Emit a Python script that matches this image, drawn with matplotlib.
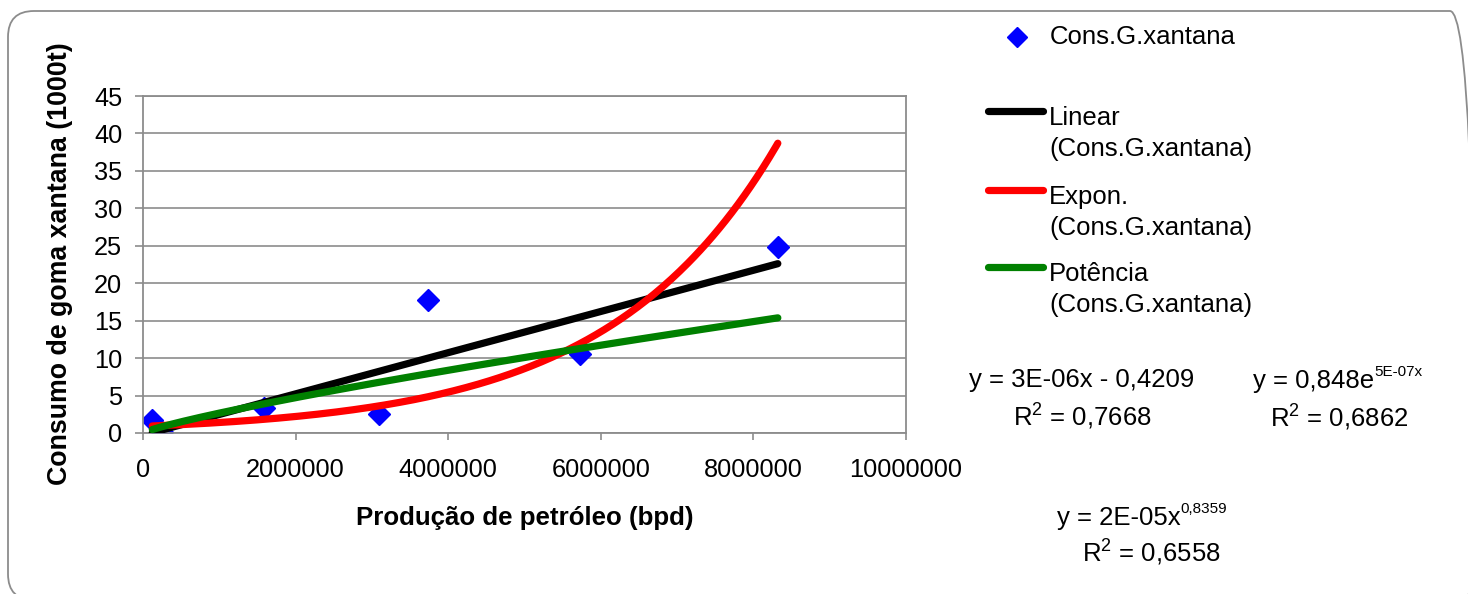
import numpy as np
import matplotlib
matplotlib.use("Agg")
import matplotlib.pyplot as plt
from matplotlib.lines import Line2D
from matplotlib.patches import FancyBboxPatch
from matplotlib.transforms import IdentityTransform
from matplotlib.ticker import FuncFormatter, MultipleLocator

# ---------------- Data ---------------- #
producao = [122000, 244000, 1584000, 3090000, 3737000, 5730000, 8320000]   # bpd
consumo = [1.75, 0.2, 3.3, 2.6, 17.7, 10.5, 24.8]                          # 1000 t

series_name = "Cons.G.xantana"
trend_names = ["Linear", "Expon.", "Potência"]
trend_colors = ["black", "red", "green"]
# (equation, superscript, R2 line)
eq_texts = [
    ("y = 3E-06x - 0,4209", "", "R$^2$ = 0,7668"),
    ("y = 0,848e", "5E-07x", "R$^2$ = 0,6862"),
    ("y = 2E-05x", "0,8359", "R$^2$ = 0,6558"),
]

x = np.array(producao, dtype=float)
y = np.array(consumo, dtype=float)

# ---------------- Trend fits (Excel style) ---------------- #
a_lin, b_lin = np.polyfit(x, y, 1)
k_exp, ln_a_exp = np.polyfit(x, np.log(y), 1)
p_pow, ln_a_pow = np.polyfit(np.log(x), np.log(y), 1)

xs = np.linspace(x.min(), x.max(), 300)
trends = [
    a_lin * xs + b_lin,
    np.exp(ln_a_exp) * np.exp(k_exp * xs),
    np.exp(ln_a_pow) * xs ** p_pow,
]

# ---------------- Figure ---------------- #
plt.rcParams['font.family'] = ['Liberation Sans', 'DejaVu Sans']
plt.rcParams['mathtext.fontset'] = 'custom'
plt.rcParams['mathtext.rm'] = 'Liberation Sans'
plt.rcParams['mathtext.it'] = 'Liberation Sans'

W, H = 1468, 594
FS = 18.5
fig = plt.figure(figsize=(W / 100, H / 100), dpi=100)


def fx(px):
    return px / W


def fy(py):
    return 1 - py / H


# outer rounded border (pixel coords)
fig.patches.append(FancyBboxPatch((8, H - 600), 1476 - 8, 600 - 11,
                                  boxstyle="round,pad=0,rounding_size=26",
                                  transform=IdentityTransform(), fill=False,
                                  edgecolor="#8c8c8c", linewidth=1.3))

ax = fig.add_axes([fx(143), fy(433), fx(906 - 143), (433 - 96) / H])

ax.plot(x, y, linestyle="none", marker="D", markersize=11, color="#0000ff",
        zorder=2)
for ys, c in zip(trends, trend_colors):
    ax.plot(xs, ys, color=c, linewidth=5.2, solid_capstyle="round", zorder=3)

ax.set_xlim(0, 10000000)
ax.set_ylim(0, 45)
ax.xaxis.set_major_locator(MultipleLocator(2000000))
ax.yaxis.set_major_locator(MultipleLocator(5))
ax.xaxis.set_major_formatter(FuncFormatter(lambda v, p: "%d" % v))
ax.grid(axis="y", color="#8c8c8c", linewidth=1.2)
ax.set_axisbelow(True)
for s in ax.spines.values():
    s.set_color("#8c8c8c")
    s.set_linewidth(1.3)
ax.tick_params(axis="x", direction="out", length=5, width=1.2, color="#8c8c8c",
               pad=13, labelsize=18.3)
ax.tick_params(axis="y", direction="out", length=6, width=1.2, color="#8c8c8c",
               pad=9, labelsize=18.3)

fig.text(fx(525), fy(518), "Produção de petróleo (bpd)", ha="center", va="center",
         fontsize=18.6, fontweight="bold")
fig.text(fx(60), fy(264), "Consumo de goma xantana (1000t)", ha="center",
         va="center", rotation=90, fontsize=19.3, fontweight="bold")

# ---------------- Legend (drawn by hand) ---------------- #
fig.add_artist(Line2D([fx(1017)], [fy(37)], marker="D", markersize=10,
                      color="#0000ff", linestyle="none", transform=fig.transFigure))
fig.text(fx(1050), fy(37), series_name, ha="left", va="center", fontsize=FS)
leg_y = [111, 190, 267]
for name, c, ly in zip(trend_names, trend_colors, leg_y):
    fig.add_artist(Line2D([fx(988), fx(1043)], [fy(ly), fy(ly)], color=c,
                          linewidth=5.2, solid_capstyle="round",
                          transform=fig.transFigure))
    fig.text(fx(1049), fy(ly + 14), name, ha="left", va="baseline", fontsize=FS)
    fig.text(fx(1049), fy(ly + 45), "(" + series_name + ")", ha="left",
             va="baseline", fontsize=FS)

# ---------------- Equations ---------------- #
renderer = fig.canvas.get_renderer()
eq_pos = [(1082, 380, 1082, 417), (1338, 381, 1339, 418), (1142, 518, 1151, 553)]
for (e, sup, r), (cx, y1, rx, y2) in zip(eq_texts, eq_pos):
    t = fig.text(0, fy(y1), e, ha="left", va="center", fontsize=FS)
    wb = t.get_window_extent(renderer).width
    ws = 0
    if sup:
        st = fig.text(0, fy(y1 - 5), sup, ha="left", va="baseline", fontsize=11)
        ws = st.get_window_extent(renderer).width
    x0 = cx - (wb + ws) / 2
    t.set_x(fx(x0))
    if sup:
        st.set_x(fx(x0 + wb))
    fig.text(fx(rx), fy(y2), r, ha="center", va="center", fontsize=FS)

fig.savefig("out.png", dpi=100)
